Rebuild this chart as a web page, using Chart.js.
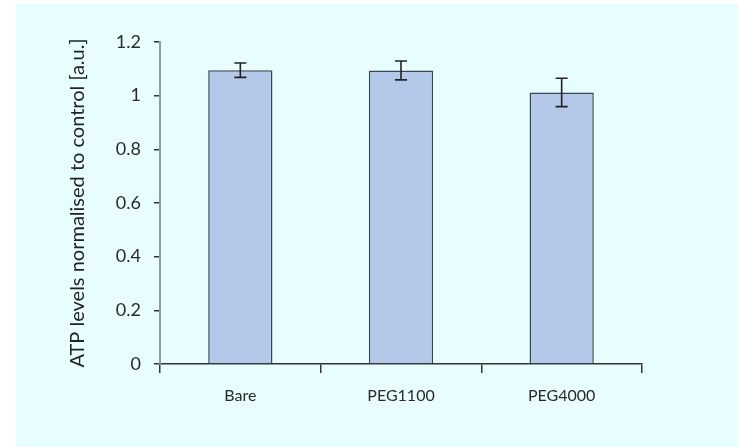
<!DOCTYPE html>
<html>
<head>
<meta charset="utf-8">
<script src="https://cdn.jsdelivr.net/npm/chart.js@4"></script>
<style>
  body { margin: 0; background: #ffffff; }
</style>
</head>
<body>
<canvas id="atpChart" width="738" height="447"></canvas>
<script>
var categories = ['Bare', 'PEG1100', 'PEG4000'];
var atpValues = [1.095, 1.094, 1.012];
var atpErrors = [0.027, 0.035, 0.053];
var yTicks = [0, 0.2, 0.4, 0.6, 0.8, 1, 1.2];

var labelFont = "Lato, 'DejaVu Sans', sans-serif";

// light cyan panel behind the chart
var panelBg = {
    id: 'panelBg',
    beforeDraw: function(chart) {
        var ctx = chart.ctx;
        ctx.save();
        ctx.fillStyle = '#ffffff';
        ctx.fillRect(0, 0, chart.width, chart.height);
        ctx.fillStyle = '#e8fefe';
        ctx.fillRect(16, 4, chart.width - 16, chart.height - 4);
        ctx.restore();
    }
};

// simple error bars on top of each bar
var errorBars = {
    id: 'errorBars',
    afterDatasetsDraw: function(chart) {
        var ctx = chart.ctx;
        var meta = chart.getDatasetMeta(0);
        var yScale = chart.scales.y;
        ctx.save();
        ctx.strokeStyle = '#222';
        ctx.lineWidth = 1.6;
        meta.data.forEach(function(bar, i) {
            var x = bar.x;
            var top = yScale.getPixelForValue(atpValues[i] + atpErrors[i]);
            var bottom = yScale.getPixelForValue(atpValues[i] - atpErrors[i]);
            ctx.beginPath();
            ctx.moveTo(x, top);
            ctx.lineTo(x, bottom);
            ctx.moveTo(x - 6, top);
            ctx.lineTo(x + 6, top);
            ctx.moveTo(x - 6, bottom);
            ctx.lineTo(x + 6, bottom);
            ctx.stroke();
        });
        ctx.restore();
    }
};

var ctx = document.getElementById('atpChart').getContext('2d');
var atpChart = new Chart(ctx, {
    type: 'bar',
    data: {
        labels: categories,
        datasets: [{
            data: atpValues,
            backgroundColor: '#b4c9e9',
            borderColor: '#3c4450',
            borderWidth: 1.5,
            categoryPercentage: 1,
            barPercentage: 0.4
        }]
    },
    options: {
        responsive: false,
        animation: false,
        layout: {
            padding: { top: 42, right: 96, left: 0, bottom: 0 }
        },
        plugins: {
            legend: { display: false },
            tooltip: { enabled: false }
        },
        scales: {
            x: {
                afterFit: function(scale) { scale.height = 83; },
                grid: {
                    offset: true,
                    drawOnChartArea: false,
                    drawTicks: true,
                    tickLength: 9,
                    color: '#333',
                    lineWidth: 1.5
                },
                border: { color: '#333', width: 1.5 },
                ticks: {
                    color: '#2a2a2a',
                    padding: 13,
                    font: { family: labelFont, size: 16 }
                }
            },
            y: {
                min: 0,
                max: 1.2,
                afterFit: function(scale) { scale.width = 160; },
                afterBuildTicks: function(scale) {
                    scale.ticks = yTicks.map(function(v) { return { value: v }; });
                },
                grid: {
                    drawOnChartArea: false,
                    drawTicks: true,
                    tickLength: 6,
                    color: '#333',
                    lineWidth: 1.5
                },
                border: { color: '#8c9bb5', width: 2 },
                ticks: {
                    color: '#2a2a2a',
                    padding: 13,
                    font: { family: labelFont, size: 18 },
                    callback: function(v) { return String(v); }
                },
                title: {
                    display: true,
                    text: 'ATP levels normalised to control [a.u.]',
                    color: '#222',
                    font: { family: labelFont, size: 20 },
                    padding: { top: 66, bottom: 0 }
                }
            }
        }
    },
    plugins: [panelBg, errorBars]
});
</script>
</body>
</html>
